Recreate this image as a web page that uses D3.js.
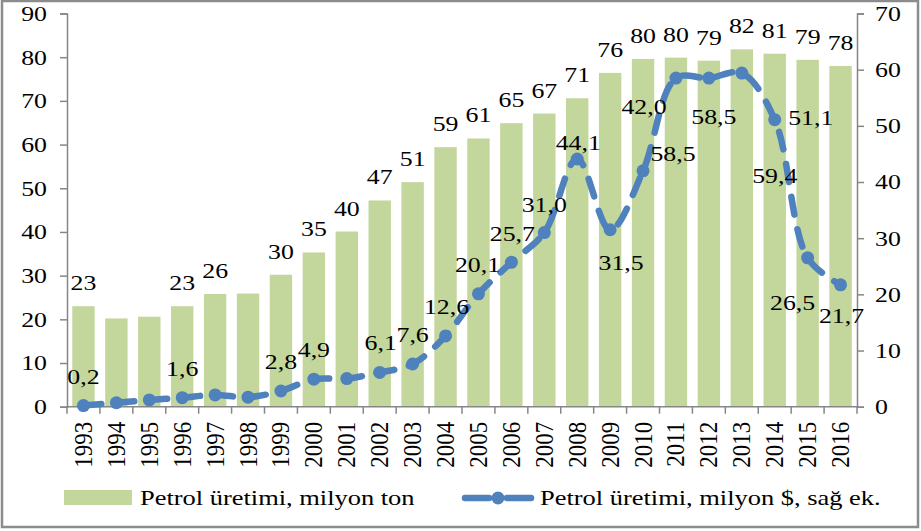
<!DOCTYPE html>
<html>
<head>
<meta charset="utf-8">
<script src="https://cdn.jsdelivr.net/npm/d3@7"></script>
<style>
  body { margin: 0; background: #fff; }
  svg text { font-family: "Liberation Serif", "Times New Roman", serif; fill: #000; }
</style>
</head>
<body>
<div id="chart"></div>
<script>
var width = 921, height = 531;

// data
var years = ["1993","1994","1995","1996","1997","1998","1999","2000","2001","2002","2003","2004",
             "2005","2006","2007","2008","2009","2010","2011","2012","2013","2014","2015","2016"];
var tons = [23, 20.2, 20.6, 23, 25.8, 25.9, 30.2, 35.3, 40.1, 47.2, 51.4, 59.4,
            61.4, 64.9, 67.1, 70.6, 76.4, 79.6, 79.9, 79.2, 81.8, 80.8, 79.4, 78];
var tonLabels = ["23", "", "", "23", "26", "", "30", "35", "40", "47", "51", "59",
                 "61", "65", "67", "71", "76", "80", "80", "79", "82", "81", "79", "78"];
var dollars = [0.2, 0.7, 1.2, 1.6, 2.1, 1.7, 2.8, 4.9, 5.0, 6.1, 7.6, 12.6,
               20.1, 25.7, 31.0, 44.1, 31.5, 42.0, 58.5, 58.5, 59.4, 51.1, 26.5, 21.7];
var dollarLabels = ["0,2", "", "", "1,6", "", "", "2,8", "4,9", "", "6,1", "7,6", "12,6",
                    "20,1", "25,7", "31,0", "44,1", "31,5", "42,0", "58,5", "58,5", "59,4", "51,1", "26,5", "21,7"];
var leftTicks = [0, 10, 20, 30, 40, 50, 60, 70, 80, 90];
var rightTicks = [0, 10, 20, 30, 40, 50, 60, 70];
var legendNames = ["Petrol üretimi, milyon ton", "Petrol üretimi, milyon $, sağ ek."];

// label offsets from the point (px), the source has hand-placed labels
var dollarLabelOffsets = [[0,-22],[0,-22],[0,-22],[0,-22],[0,-22],[0,-22],[0,-22],[0,-22],[0,-22],[1,-22],[0,-22],[1,-22],
                          [-1,-22],[1,-21],[0,-21],[1,-9],[11,40],[1,-57],[-3,83],[5,46],[33,110],[36,5],[-15,52],[1,38]];

var barColor = "#c3d69b", lineColor = "#4f81bd", axisColor = "#868686";
var fontSize = 21.5, sx = 1.2;        // source picture is stretched sideways
var legendSize = 20.5, legendSx = 1.29;

var svg = d3.select("#chart").append("svg")
  .attr("width", width).attr("height", height);

// stretched text helper
function stretchText(sel, xf, yf, s) {
  sel.attr("x", 0).attr("y", 0)
    .attr("transform", function(d, i) {
      return "translate(" + xf(d, i) + "," + yf(d, i) + ") scale(" + s + ",1)";
    });
}

// outer frame
svg.append("rect")
  .attr("x", 2).attr("y", 1)
  .attr("width", 916).attr("height", 526)
  .attr("fill", "none").attr("stroke", "#8c8c8c").attr("stroke-width", 2.5);

var x0 = 67, x1 = 857, yTop = 13.5, yBottom = 406.7;

var x = d3.scaleBand().domain(years).range([x0, x1]).paddingInner(0.32).paddingOuter(0.16);
var yL = d3.scaleLinear().domain([0, 90]).range([yBottom, yTop]);
var yR = d3.scaleLinear().domain([0, 70]).range([yBottom, yTop]);

// bars
svg.append("g").selectAll("rect")
  .data(tons).enter()
  .append("rect")
  .attr("x", function(d, i) { return x(years[i]); })
  .attr("y", function(d) { return yL(d); })
  .attr("width", x.bandwidth())
  .attr("height", function(d) { return yBottom - yL(d); })
  .attr("fill", barColor);

// left axis
var axL = svg.append("g").attr("transform", "translate(" + x0 + ",0)")
  .call(d3.axisLeft(yL).tickValues(leftTicks).tickSize(7).tickPadding(13));
// right axis
var axR = svg.append("g").attr("transform", "translate(" + x1 + ",0)")
  .call(d3.axisRight(yR).tickValues(rightTicks).tickSize(7).tickPadding(11));
[axL, axR].forEach(function(ax) {
  ax.select(".domain").attr("stroke", axisColor).attr("stroke-width", 1.5);
  ax.selectAll(".tick line").attr("stroke", axisColor).attr("stroke-width", 1.5);
  ax.selectAll(".tick text").each(function() {
    var t = d3.select(this);
    var tx = +t.attr("x");
    t.attr("x", 0)
      .attr("transform", "translate(" + tx + ",0) scale(" + sx + ",1)")
      .attr("font-family", "Liberation Serif").attr("font-size", fontSize).attr("fill", "#000");
  });
});

// bottom axis: line + category boundary ticks
var bottom = svg.append("g");
bottom.append("line")
  .attr("x1", x0).attr("x2", x1).attr("y1", yBottom).attr("y2", yBottom)
  .attr("stroke", axisColor).attr("stroke-width", 1.5);
var bounds = d3.range(years.length + 1).map(function(i) { return x0 + i * (x1 - x0) / years.length; });
bottom.selectAll("line.tk").data(bounds).enter()
  .append("line").attr("class", "tk")
  .attr("x1", function(d) { return d; }).attr("x2", function(d) { return d; })
  .attr("y1", yBottom).attr("y2", yBottom + 7)
  .attr("stroke", axisColor).attr("stroke-width", 1.5);
bottom.selectAll("text").data(years).enter()
  .append("text")
  .attr("transform", function(d) {
    return "translate(" + (x(d) + x.bandwidth() / 2 + 8.5) + "," + (yBottom + 15) + ") scale(1.14,1) rotate(-90)";
  })
  .attr("text-anchor", "end")
  .attr("font-size", 23)
  .text(function(d) { return d; });

// bar labels
svg.append("g").selectAll("text")
  .data(tons).enter()
  .append("text")
  .call(stretchText,
    function(d, i) { return x(years[i]) + x.bandwidth() / 2; },
    function(d) { return yL(d) - 16; }, sx)
  .attr("text-anchor", "middle")
  .attr("font-size", fontSize)
  .text(function(d, i) { return tonLabels[i]; });

// line
var cx = function(i) { return x(years[i]) + x.bandwidth() / 2; };
var line = d3.line()
  .x(function(d, i) { return cx(i); })
  .y(function(d) { return yR(d); })
  .curve(d3.curveCatmullRom.alpha(0.5));

svg.append("path")
  .datum(dollars)
  .attr("d", line)
  .attr("fill", "none")
  .attr("stroke", lineColor)
  .attr("stroke-width", 6.5)
  .attr("stroke-linecap", "round")
  .attr("stroke-dasharray", "18,15");

svg.append("g").selectAll("circle")
  .data(dollars).enter()
  .append("circle")
  .attr("cx", function(d, i) { return cx(i); })
  .attr("cy", function(d) { return yR(d); })
  .attr("r", 6.5)
  .attr("fill", lineColor);

svg.append("g").selectAll("text")
  .data(dollars).enter()
  .append("text")
  .call(stretchText,
    function(d, i) { return cx(i) + dollarLabelOffsets[i][0]; },
    function(d, i) { return yR(d) + dollarLabelOffsets[i][1]; }, sx)
  .attr("text-anchor", "middle")
  .attr("font-size", fontSize)
  .text(function(d, i) { return dollarLabels[i]; });

// legend
var leg = svg.append("g");
leg.append("rect")
  .attr("x", 64).attr("y", 490).attr("width", 68).attr("height", 15)
  .attr("fill", barColor);
leg.append("text")
  .attr("transform", "translate(140,505) scale(" + legendSx + ",1)")
  .attr("font-size", legendSize)
  .text(legendNames[0]);
leg.append("line")
  .attr("x1", 465).attr("x2", 531).attr("y1", 498).attr("y2", 498)
  .attr("stroke", lineColor).attr("stroke-width", 6.5)
  .attr("stroke-linecap", "round")
  .attr("stroke-dasharray", "24,18");
leg.append("circle")
  .attr("cx", 498).attr("cy", 498).attr("r", 6.5)
  .attr("fill", lineColor);
leg.append("text")
  .attr("transform", "translate(540,505) scale(" + legendSx + ",1)")
  .attr("font-size", legendSize)
  .text(legendNames[1]);
</script>
</body>
</html>
